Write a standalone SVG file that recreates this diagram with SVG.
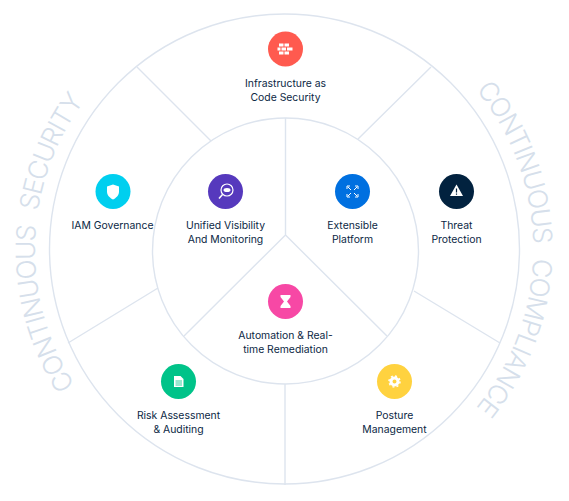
<svg xmlns="http://www.w3.org/2000/svg" width="569" height="501" viewBox="0 0 569 501">
<style>
.ln{fill:none;stroke:#dde4ee;stroke-width:1.400}
.lb{font-family:Inter,"Liberation Sans",sans-serif;font-size:10.400px;fill:#0b2744;text-anchor:middle}
.arc{font-family:Inter,"Liberation Sans",sans-serif;font-weight:300;font-size:26.500px;letter-spacing:-1.300px;word-spacing:9px;fill:#d6dfeb}
.ic{fill:#fff}
</style>
<defs>
<path id="arcR" d="M476 90A249 249 0 0 1 440 443"/>
<path id="arcL" d="M75 385A249 249 0 0 1 125 58"/>
</defs>
<rect width="569" height="501" fill="#fff"/>
<g id="connectors">
<circle class="ln" cx="284.500" cy="249" r="235"/>
<circle class="ln" cx="285.500" cy="251" r="133"/>
<path class="ln" d="M285.500 235V118M285.500 235L184 336M285.500 235L387 336M137 67L211 141M431 67L358 139M500 343L414 291M68 343L158 288M285 384V485"/>
</g>
<g id="band-left"><text class="arc"><textPath href="#arcL">CONTINUOUS SECURITY</textPath></text></g>
<g id="band-right"><text class="arc"><textPath href="#arcR">CONTINUOUS COMPLIANCE</textPath></text></g>
<g id="node-infra"><circle cx="285.500" cy="49" r="17.500" fill="#ff5a4f"/>
<path class="ic" d="M279 43.500h4.500v3h-4.500zM284.500 43.500h4.500v3h-4.500zM277.500 47.500h3v3h-3zM281.500 47.500h4.500v3h-4.500zM287 47.500h5.500v3h-5.500zM279 51.500h4.500v3h-4.500zM284.500 51.500h4.500v3h-4.500z"/>
<text class="lb" x="285.500" y="87">Infrastructure as</text><text class="lb" x="285.500" y="101">Code Security</text></g>
<g id="node-iam"><circle cx="113" cy="191.500" r="17.500" fill="#00cfef"/>
<path class="ic" d="M113 184.500l6 2v5c0 4-3 6.500-6 8-3-1.500-6-4-6-8v-5z"/>
<text class="lb" x="112.500" y="229">IAM Governance</text></g>
<g id="node-unified"><circle cx="225.500" cy="191.500" r="17.500" fill="#5639bd"/>
<circle cx="227" cy="190" r="6" fill="none" stroke="#fff" stroke-width="1.200"/><ellipse class="ic" cx="227" cy="190" rx="3.500" ry="2"/><path d="M222.500 194.500L219 198.500" stroke="#fff" stroke-width="1.500" fill="none"/>
<text class="lb" x="225.500" y="229">Unified Visibility</text><text class="lb" x="225.500" y="243">And Monitoring</text></g>
<g id="node-extensible"><circle cx="352.500" cy="191.500" r="17.500" fill="#0070e0"/>
<path d="M348 187l3 3M357 187l-3 3M348 196l3-3M357 196l-3-3M347 189v-3h3M358 189v-3h-3M347 194v3h3M358 194v3h-3" stroke="#fff" stroke-width="1" fill="none"/>
<text class="lb" x="352.500" y="229">Extensible</text><text class="lb" x="352.500" y="243">Platform</text></g>
<g id="node-threat"><circle cx="456.500" cy="191.500" r="17.500" fill="#02223f"/>
<path class="ic" d="M456.500 184.500l6.500 11.500h-13z"/><path d="M456.500 188.500v4M456.500 193.500v1.200" stroke="#02223f" stroke-width="1.200"/>
<text class="lb" x="456.500" y="229">Threat</text><text class="lb" x="456.500" y="243">Protection</text></g>
<g id="node-automation"><circle cx="285.500" cy="301.500" r="17.500" fill="#f748a5"/>
<path class="ic" d="M280.500 295h10v2l-3.500 4.500 3.500 4.500v2h-10v-2l3.500-4.500-3.500-4.500z"/>
<text class="lb" x="285.500" y="339">Automation &amp; Real-</text><text class="lb" x="285.500" y="353">time Remediation</text></g>
<g id="node-risk"><circle cx="178.500" cy="381.500" r="17.500" fill="#00c389"/>
<path class="ic" d="M174 376h6.500l3 3v8h-9.500z"/><path d="M175.500 381h6.500M175.500 383h6.500M175.500 385h6.500" stroke="#00c389" stroke-width=".8"/>
<text class="lb" x="178.500" y="419">Risk Assessment</text><text class="lb" x="178.500" y="433">&amp; Auditing</text></g>
<g id="node-posture"><circle cx="394.500" cy="381.500" r="17.500" fill="#ffd23f"/>
<circle cx="394.500" cy="381.500" r="3.500" fill="none" stroke="#fff" stroke-width="3"/><circle cx="394.500" cy="381.500" r="5.500" fill="none" stroke="#fff" stroke-width="1.500" stroke-dasharray="2 2.300"/>
<text class="lb" x="394.500" y="419">Posture</text><text class="lb" x="394.500" y="433">Management</text></g>
</svg>
